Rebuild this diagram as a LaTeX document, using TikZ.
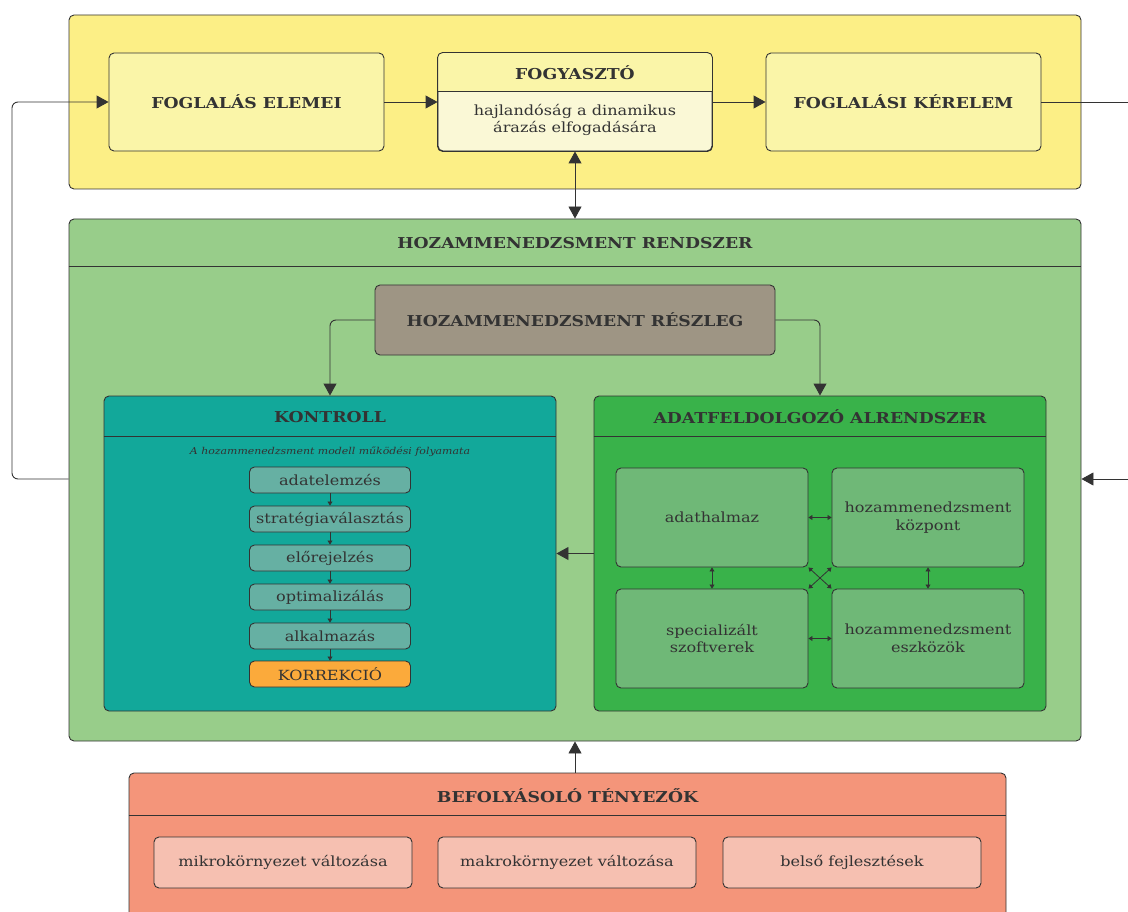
\documentclass[tikz,border=0pt]{standalone}
\usepackage{fontspec}
\setmainfont{DejaVu Serif}[FakeStretch=1.15]
\usepackage{tikz}
\usetikzlibrary{arrows.meta}
\usetikzlibrary{positioning}

\definecolor{linegray}{HTML}{333333}
\definecolor{yellowbg}{HTML}{FCEF86}
\definecolor{yellowbox}{HTML}{FAF5A8}
\definecolor{yellowlight}{HTML}{FAF8D6}
\definecolor{greenbg}{HTML}{98CD8A}
\definecolor{taupe}{HTML}{9E9584}
\definecolor{kontrollcol}{HTML}{12A89A}
\definecolor{stepcol}{HTML}{66B0A3}
\definecolor{korrcol}{HTML}{FBAA3B}
\definecolor{adatcol}{HTML}{39B24A}
\definecolor{adatbox}{HTML}{6FB877}
\definecolor{salmonbg}{HTML}{F4957A}
\definecolor{salmonbox}{HTML}{F6C0B1}

\tikzset{
	panel/.style={draw=linegray, line width=0.9pt, rounded corners=5pt, inner sep=0pt},
	divider/.style={draw=linegray, line width=0.9pt},
	title/.style={font=\bfseries\fontsize{15}{17}\selectfont, text=linegray},
	body/.style={font=\fontsize{14}{17.5}\selectfont, text=linegray, align=center},
	stepbox/.style={panel, fill=stepcol, minimum width=161pt, minimum height=26pt, body},
	bigarrow/.style={draw=linegray, line width=0.9pt, -{Triangle[length=12pt,width=13pt]}},
	bigtwoway/.style={draw=linegray, line width=0.9pt, {Triangle[length=12pt,width=13pt]}-{Triangle[length=12pt,width=13pt]}},
	smallarrow/.style={draw=linegray, line width=0.8pt, -{Triangle[length=4pt,width=5pt]}},
	twoway/.style={draw=linegray, line width=0.8pt, {Triangle[length=4pt,width=5pt]}-{Triangle[length=4pt,width=5pt]}},
}

\begin{document}
\begin{tikzpicture}[x=1pt, y=-1pt]
	\useasboundingbox (0,0) rectangle (1128,912);
	\clip (0,0) rectangle (1128,912);

	\node[panel, fill=yellowbg, minimum width=1012pt, minimum height=174pt] (top) at (575,102) {};
	\node[panel, fill=yellowbox, minimum width=275pt, minimum height=98pt] (fogel) at (246.5,102) {};
	\node[title] (fogelt) at (fogel) {FOGLALÁS ELEMEI};
	\node[panel, fill=yellowlight, minimum width=274pt, minimum height=98pt] (fogy) at (575,102) {};
	\fill[yellowbox] ([yshift=-39pt]fogy.north west) [rounded corners=5pt] -- (fogy.north west) -- (fogy.north east) [sharp corners] -- ([yshift=-39pt]fogy.north east) -- cycle;
	\draw[panel] (fogy.north west) rectangle (fogy.south east);
	\draw[divider] ([yshift=-39pt]fogy.north west) -- ([yshift=-39pt]fogy.north east);
	\node[title] (fogyt) at (575,73) {FOGYASZTÓ};
	\node[body] (fogyb) at (575,120) {hajlandóság a dinamikus\\árazás elfogadására};
	\node[panel, fill=yellowbox, minimum width=275pt, minimum height=98pt] (kerelem) at (903.5,102) {};
	\node[title] (kerelemt) at (kerelem) {FOGLALÁSI KÉRELEM};

	\node[panel, fill=greenbg, minimum width=1012pt, minimum height=522pt] (sys) at (575,480) {};
	\draw[divider] ([yshift=-48pt]sys.north west) -- ([yshift=-48pt]sys.north east);
	\node[title] (syst) at (575,243) {HOZAMMENEDZSMENT RENDSZER};
	\node[panel, fill=taupe, minimum width=400pt, minimum height=70pt] (reszleg) at (575,320) {};
	\node[title] (reszlegt) at (reszleg) {HOZAMMENEDZSMENT RÉSZLEG};

	\node[panel, fill=kontrollcol, minimum width=452pt, minimum height=315pt] (kontroll) at (330,553.5) {};
	\draw[divider] ([yshift=-41pt]kontroll.north west) -- ([yshift=-41pt]kontroll.north east);
	\node[title] (kontrollt) at (330,417) {KONTROLL};
	\node[text=linegray, font=\itshape\fontsize{9.5}{11}\selectfont] (modell) at (330,452) {A hozammenedzsment modell működési folyamata};
	\node[stepbox] (s1) at (330,480) {adatelemzés};
	\node[stepbox] (s2) at (330,519) {stratégiaválasztás};
	\node[stepbox] (s3) at (330,558) {előrejelzés};
	\node[stepbox] (s4) at (330,597) {optimalizálás};
	\node[stepbox] (s5) at (330,636) {alkalmazás};
	\node[stepbox, fill=korrcol] (s6) at (330,674) {KORREKCIÓ};

	\node[panel, fill=adatcol, minimum width=452pt, minimum height=315pt] (adat) at (820,553.5) {};
	\draw[divider] ([yshift=-41pt]adat.north west) -- ([yshift=-41pt]adat.north east);
	\node[title] (adatt) at (820,417) {ADATFELDOLGOZÓ ALRENDSZER};
	\node[panel, fill=adatbox, minimum width=192pt, minimum height=99pt, body] (halmaz) at (712,517.5) {adathalmaz};
	\node[panel, fill=adatbox, minimum width=192pt, minimum height=99pt, body] (kozpont) at (928,517.5) {hozammenedzsment\\központ};
	\node[panel, fill=adatbox, minimum width=192pt, minimum height=99pt, body] (szoftver) at (712,638.5) {specializált\\szoftverek};
	\node[panel, fill=adatbox, minimum width=192pt, minimum height=99pt, body] (eszkoz) at (928,638.5) {hozammenedzsment\\eszközök};

	\node[panel, fill=salmonbg, minimum width=877pt, minimum height=157pt] (befoly) at (567.5,851.5) {};
	\draw[divider] ([yshift=-43pt]befoly.north west) -- ([yshift=-43pt]befoly.north east);
	\node[title] (befolyt) at (567.5,796) {BEFOLYÁSOLÓ TÉNYEZŐK};
	\node[panel, fill=salmonbox, minimum width=258pt, minimum height=51pt, body] (mikro) at (283,862.5) {mikrokörnyezet változása};
	\node[panel, fill=salmonbox, minimum width=258pt, minimum height=51pt, body] (makro) at (567,862.5) {makrokörnyezet változása};
	\node[panel, fill=salmonbox, minimum width=258pt, minimum height=51pt, body] (belso) at (852,862.5) {belső fejlesztések};

	\coordinate (fbl) at (12,479);
	\coordinate (fbr) at (1140,479);
	\draw[bigarrow, rounded corners=6pt] (sys.west |- fbl) -- (fbl) -- (fbl |- fogel.west) -- (fogel.west);
	\draw[bigarrow] (fogel) -- (fogy);
	\draw[bigarrow] (fogy.east) -- (kerelem.west);
	\draw[bigarrow] (kerelem.east) -- (fbr |- kerelem.east) -- (fbr) -- (sys.east |- fbr);
	\draw[bigtwoway] (fogy.south) -- (sys.north);
	\draw[bigarrow, rounded corners=6pt] (reszleg.west) -- (kontroll.north |- reszleg.west) -- (kontroll.north);
	\draw[bigarrow, rounded corners=6pt] (reszleg.east) -- (adat.north |- reszleg.east) -- (adat.north);
	\draw[bigarrow] (adat.west) -- (kontroll.east);
	\draw[bigarrow] (sys.south |- befoly.north) -- (sys.south);

	\foreach \a/\b in {s1/s2, s2/s3, s3/s4, s4/s5, s5/s6}
		\draw[smallarrow] (\a.south) -- (\b.north);

	\draw[twoway] (halmaz.east) -- (kozpont.west);
	\draw[twoway] (szoftver.east) -- (eszkoz.west);
	\draw[twoway] (halmaz.south) -- (szoftver.north);
	\draw[twoway] (kozpont.south) -- (eszkoz.north);
	\draw[twoway] (halmaz.south east) -- (eszkoz.north west);
	\draw[twoway] (kozpont.south west) -- (szoftver.north east);
\end{tikzpicture}
\end{document}
